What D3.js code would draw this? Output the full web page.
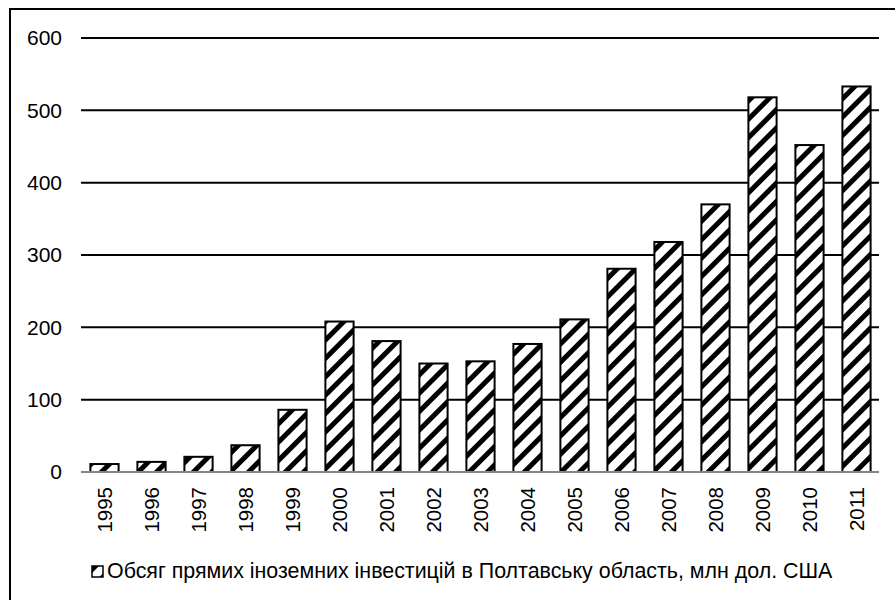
<!DOCTYPE html>
<html>
<head>
<meta charset="utf-8">
<script src="https://cdn.jsdelivr.net/npm/d3@7"></script>
<style>
  body { margin: 0; background: #fff; }
  svg { display: block; font-family: "Liberation Sans", Arial, sans-serif; }
</style>
</head>
<body>
<svg id="chart" width="895" height="600"></svg>
<script>
// data
var years = ["1995","1996","1997","1998","1999","2000","2001","2002","2003",
             "2004","2005","2006","2007","2008","2009","2010","2011"];
var fdi = [11, 14, 21, 37, 86, 208, 181, 150, 153, 177, 211, 281, 318, 370, 518, 452, 533];
var yTicks = [0, 100, 200, 300, 400, 500, 600];
var legendLabel = "Обсяг прямих іноземних інвестицій в Полтавську область, млн дол. США";

var svg = d3.select("#chart"),
    width = +svg.attr("width"),
    height = +svg.attr("height");

var plotL = 81, plotR = 880, plotT = 38, plotB = 472;

// hatch pattern "/"
var defs = svg.append("defs");
var pat = defs.append("pattern")
    .attr("id", "hatch")
    .attr("patternUnits", "userSpaceOnUse")
    .attr("width", 13).attr("height", 13)
    .attr("patternTransform", "rotate(45)");
pat.append("rect").attr("width", 13).attr("height", 13).attr("fill", "#fff");
pat.append("rect").attr("x", 0).attr("y", 0).attr("width", 5).attr("height", 13).attr("fill", "#000");

// outer frame (runs off the right and bottom edges)
svg.append("rect")
    .attr("x", 10).attr("y", 9)
    .attr("width", width + 20).attr("height", height + 20)
    .attr("fill", "none").attr("stroke", "#000").attr("stroke-width", 2);

var x = d3.scaleBand().domain(years).range([plotL, plotR]).paddingInner(0.4).paddingOuter(0.2);
var y = d3.scaleLinear().domain([0, 600]).range([plotB, plotT]);

// gridlines
svg.append("g").selectAll("line")
    .data(yTicks.filter(function(d) { return d > 0; }))
  .enter().append("line")
    .attr("x1", plotL).attr("x2", plotR - 1)
    .attr("y1", function(d) { return y(d); })
    .attr("y2", function(d) { return y(d); })
    .attr("stroke", "#000").attr("stroke-width", 2);

// y labels
svg.append("g").selectAll("text")
    .data(yTicks)
  .enter().append("text")
    .attr("x", 62)
    .attr("y", function(d) { return y(d); })
    .attr("dy", "0.35em")
    .attr("text-anchor", "end")
    .attr("font-size", 21)
    .text(function(d) { return d; });

// bars
svg.append("g").selectAll("rect")
    .data(fdi)
  .enter().append("rect")
    .attr("x", function(d, i) { return x(years[i]); })
    .attr("y", function(d) { return y(d); })
    .attr("width", x.bandwidth())
    .attr("height", function(d) { return y(0) - y(d); })
    .attr("fill", "url(#hatch)")
    .attr("stroke", "#000").attr("stroke-width", 2);

// zero axis
svg.append("line")
    .attr("x1", plotL).attr("x2", plotR - 1)
    .attr("y1", y(0)).attr("y2", y(0))
    .attr("stroke", "#868686").attr("stroke-width", 2);

// x labels, rotated
svg.append("g").selectAll("text")
    .data(years)
  .enter().append("text")
    .attr("transform", function(d) {
      return "translate(" + (x(d) + x.bandwidth() / 2) + "," + 487 + ") rotate(-90)";
    })
    .attr("dy", "0.35em")
    .attr("text-anchor", "end")
    .attr("font-size", 20.5)
    .text(function(d) { return d; });

// legend
var lg = svg.append("g").attr("transform", "translate(92,566)");
lg.append("rect")
    .attr("width", 11).attr("height", 11)
    .attr("fill", "url(#hatch)")
    .attr("stroke", "#000").attr("stroke-width", 1.5);
lg.append("text")
    .attr("x", 15).attr("y", 11.5)
    .attr("font-size", 21.4)
    .text(legendLabel);
</script>
</body>
</html>
